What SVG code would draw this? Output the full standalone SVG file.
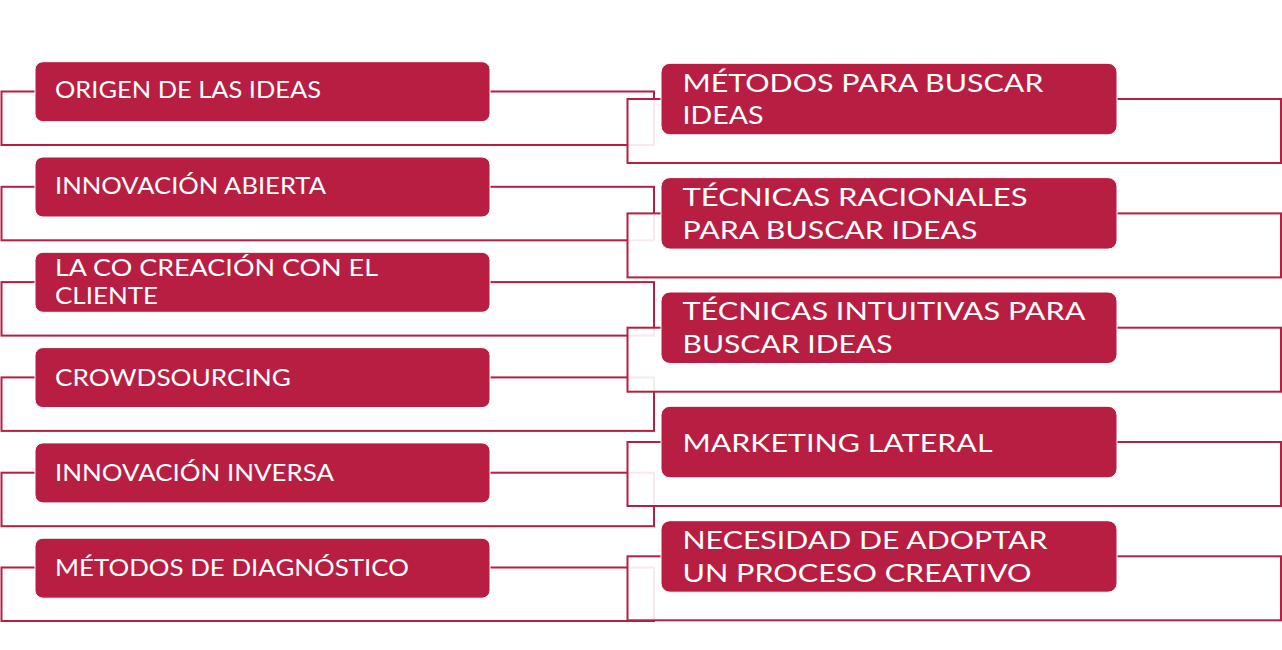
<svg xmlns="http://www.w3.org/2000/svg" width="1282" height="650" viewBox="0 0 1282 650">
<style>
.frame{fill:#ffffff;fill-opacity:0.9;stroke:#B71E42;stroke-width:2}
.box{fill:#B71E42;stroke:#ffffff;stroke-width:1}
.lt{font-family:Lato,"Liberation Sans","DejaVu Sans",sans-serif;font-size:23.3px;fill:#ffffff}
.rt{font-family:Lato,"Liberation Sans","DejaVu Sans",sans-serif;font-size:25.7px;fill:#ffffff}
</style>
<rect width="1282" height="650" fill="#ffffff"/>
<g id="connectors">
<rect class="frame" x="1.5" y="91.5" width="652.5" height="53.5"/>
<rect class="frame" x="1.5" y="186.8" width="652.5" height="53.5"/>
<rect class="frame" x="1.5" y="282.1" width="652.5" height="53.5"/>
<rect class="frame" x="1.5" y="377.4" width="652.5" height="53.5"/>
<rect class="frame" x="1.5" y="472.7" width="652.5" height="53.5"/>
<rect class="frame" x="1.5" y="567.5" width="652.5" height="53.5"/>
<rect class="frame" x="627.5" y="99" width="653.5" height="64"/>
<rect class="frame" x="627.5" y="213.4" width="653.5" height="64"/>
<rect class="frame" x="627.5" y="327.7" width="653.5" height="64"/>
<rect class="frame" x="627.5" y="442" width="653.5" height="64"/>
<rect class="frame" x="627.5" y="556.3" width="653.5" height="64"/>
</g>
<g id="node-origen">
<rect class="box" x="35" y="61.7" width="455" height="60" rx="8"/>
<text class="lt" x="55" y="98.3" textLength="266" lengthAdjust="spacingAndGlyphs">ORIGEN DE LAS IDEAS</text>
</g>
<g id="node-innovacion-abierta">
<rect class="box" x="35" y="157" width="455" height="60" rx="8"/>
<text class="lt" x="55" y="193.8" textLength="271" lengthAdjust="spacingAndGlyphs">INNOVACIÓN ABIERTA</text>
</g>
<g id="node-cocreacion">
<rect class="box" x="35" y="252.3" width="455" height="60" rx="8"/>
<text class="lt" x="55" y="276.3" textLength="323" lengthAdjust="spacingAndGlyphs">LA CO CREACIÓN CON EL</text>
<text class="lt" x="55" y="304.3" textLength="103" lengthAdjust="spacingAndGlyphs">CLIENTE</text>
</g>
<g id="node-crowdsourcing">
<rect class="box" x="35" y="347.6" width="455" height="60" rx="8"/>
<text class="lt" x="55" y="385.5" textLength="236" lengthAdjust="spacingAndGlyphs">CROWDSOURCING</text>
</g>
<g id="node-innovacion-inversa">
<rect class="box" x="35" y="442.9" width="455" height="60" rx="8"/>
<text class="lt" x="55" y="480.8" textLength="279" lengthAdjust="spacingAndGlyphs">INNOVACIÓN INVERSA</text>
</g>
<g id="node-diagnostico">
<rect class="box" x="35" y="538.2" width="455" height="60" rx="8"/>
<text class="lt" x="55" y="575.7" textLength="354" lengthAdjust="spacingAndGlyphs">MÉTODOS DE DIAGNÓSTICO</text>
</g>
<g id="node-metodos-buscar">
<rect class="box" x="661" y="63.3" width="456" height="71.5" rx="9"/>
<text class="rt" x="682.5" y="91.7" textLength="361" lengthAdjust="spacingAndGlyphs">MÉTODOS PARA BUSCAR</text>
<text class="rt" x="682.5" y="124" textLength="81" lengthAdjust="spacingAndGlyphs">IDEAS</text>
</g>
<g id="node-racionales">
<rect class="box" x="661" y="177.6" width="456" height="71.5" rx="9"/>
<text class="rt" x="682.5" y="206" textLength="345" lengthAdjust="spacingAndGlyphs">TÉCNICAS RACIONALES</text>
<text class="rt" x="682.5" y="238.5" textLength="295" lengthAdjust="spacingAndGlyphs">PARA BUSCAR IDEAS</text>
</g>
<g id="node-intuitivas">
<rect class="box" x="661" y="292" width="456" height="71.5" rx="9"/>
<text class="rt" x="682.5" y="320.3" textLength="403" lengthAdjust="spacingAndGlyphs">TÉCNICAS INTUITIVAS PARA</text>
<text class="rt" x="682.5" y="352.8" textLength="210" lengthAdjust="spacingAndGlyphs">BUSCAR IDEAS</text>
</g>
<g id="node-marketing-lateral">
<rect class="box" x="661" y="406.3" width="456" height="71.5" rx="9"/>
<text class="rt" x="682.5" y="451.7" textLength="310" lengthAdjust="spacingAndGlyphs">MARKETING LATERAL</text>
</g>
<g id="node-proceso-creativo">
<rect class="box" x="661" y="520.7" width="456" height="71.5" rx="9"/>
<text class="rt" x="682.5" y="548.5" textLength="365" lengthAdjust="spacingAndGlyphs">NECESIDAD DE ADOPTAR</text>
<text class="rt" x="682.5" y="581.7" textLength="349" lengthAdjust="spacingAndGlyphs">UN PROCESO CREATIVO</text>
</g>
</svg>
